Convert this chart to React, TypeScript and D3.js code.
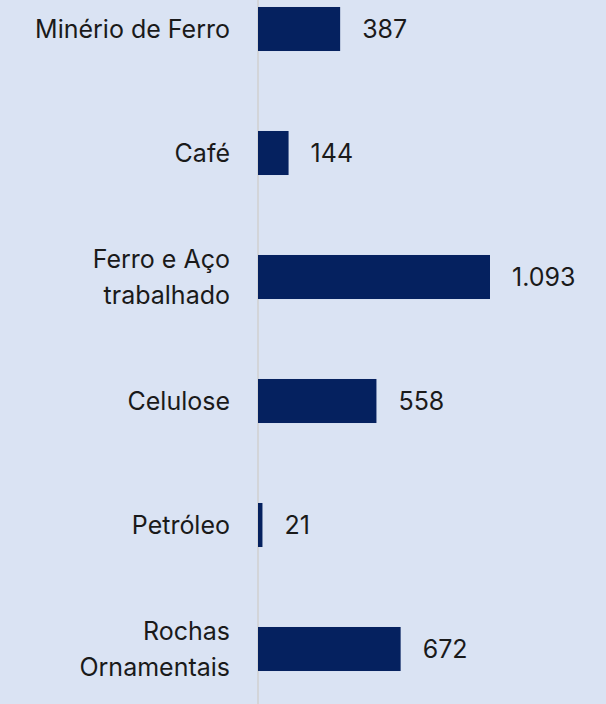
import React from "react";
import * as d3 from "d3";

const categories: string[][] = [
  ["Minério de Ferro"],
  ["Café"],
  ["Ferro e Aço", "trabalhado"],
  ["Celulose"],
  ["Petróleo"],
  ["Rochas", "Ornamentais"],
];
const values: number[] = [387, 144, 1093, 558, 21, 672];
const valueLabels: string[] = ["387", "144", "1.093", "558", "21", "672"];

const W = 606;
const H = 704;
const AXIS_X = 258;

export default function App() {
  const keys = categories.map((c) => c.join(" "));
  const y = d3
    .scaleBand<string>()
    .domain(keys)
    .range([-33, 711])
    .paddingInner(0.645)
    .paddingOuter(0.3225);
  const x = d3.scaleLinear().domain([0, 1093]).range([AXIS_X, 490]);
  const fontSize = 25;
  const lineH = 36;

  return (
    <svg
      width={W}
      height={H}
      style={{ position: "absolute", left: 0, top: 0, display: "block" }}
      fontFamily="Inter, 'Noto Sans', sans-serif"
    >
      <rect x={0} y={0} width={W} height={H} fill="#dae3f3" />
      <line x1={AXIS_X} x2={AXIS_X} y1={0} y2={H} stroke="#d0d0d0" strokeWidth={1.5} />
      {categories.map((lines, i) => {
        const k = keys[i];
        const cy = (y(k) ?? 0) + y.bandwidth() / 2;
        const x1 = x(values[i]);
        return (
          <g key={k}>
            <rect
              x={AXIS_X}
              y={y(k)}
              width={x1 - AXIS_X}
              height={y.bandwidth()}
              fill="#05215f"
            />
            {lines.map((ln, j) => (
              <text
                key={j}
                x={230}
                y={cy + (j - (lines.length - 1) / 2) * lineH}
                dy="0.35em"
                textAnchor="end"
                fontSize={fontSize}
                fill="#1a1a1a"
              >
                {ln}
              </text>
            ))}
            <text
              x={x1 + 22}
              y={cy}
              dy="0.35em"
              fontSize={fontSize}
              fill="#1a1a1a"
            >
              {valueLabels[i]}
            </text>
          </g>
        );
      })}
    </svg>
  );
}
